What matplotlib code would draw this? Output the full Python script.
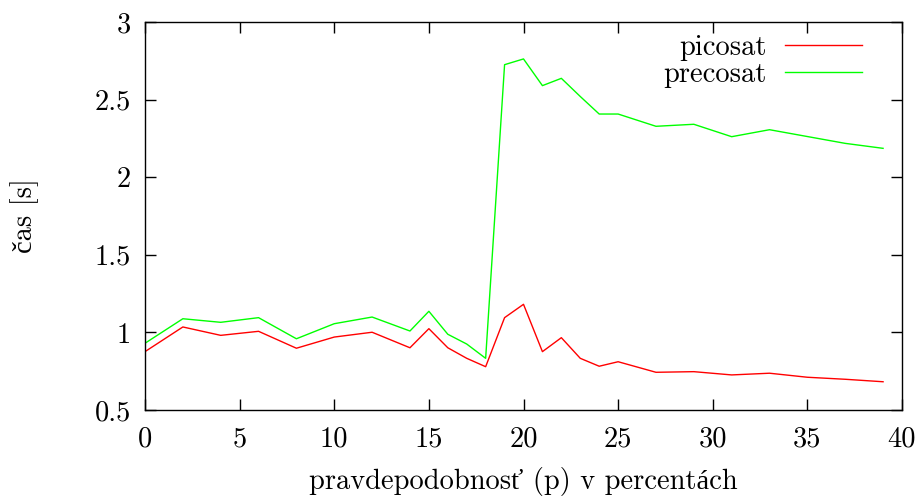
import matplotlib
matplotlib.use("Agg")
import matplotlib.pyplot as plt

plt.rcParams['font.family'] = ['cmr10', 'Liberation Serif']
plt.rcParams['axes.formatter.use_mathtext'] = True
plt.rcParams['mathtext.fontset'] = 'cm'

x = [0, 2, 4, 6, 8, 10, 12, 14, 15, 16, 17, 18, 19, 20, 21, 22, 23, 24, 25,
     27, 29, 31, 33, 35, 37, 39]
picosat = [0.876, 1.035, 0.981, 1.007, 0.898, 0.970, 1.001, 0.901, 1.024,
           0.901, 0.833, 0.779, 1.095, 1.181, 0.876, 0.966, 0.833, 0.782,
           0.811, 0.743, 0.747, 0.726, 0.737, 0.711, 0.698, 0.682]
precosat = [0.930, 1.088, 1.065, 1.095, 0.959, 1.056, 1.099, 1.009, 1.136,
            0.988, 0.925, 0.833, 2.725, 2.762, 2.590, 2.637, 2.52, 2.407,
            2.407, 2.328, 2.341, 2.261, 2.306, 2.262, 2.218, 2.186]
xticks = [0, 5, 10, 15, 20, 25, 30, 35, 40]
yticks = [0.5, 1, 1.5, 2, 2.5, 3]
ytick_labels = ['0.5', '1', '1.5', '2', '2.5', '3']

FS = 20.5
fig = plt.figure(figsize=(9.19, 4.97), dpi=100)
ax = fig.add_axes([145/919, (497-410)/497, (902-145)/919, (410-22)/497])
ax.plot(x, picosat, color='#ff0000', lw=1.0, label='picosat')
ax.plot(x, precosat, color='#00ff00', lw=1.0, label='precosat')
ax.set_xlim(0, 40)
ax.set_ylim(0.5, 3)
ax.set_xticks(xticks)
ax.set_xticklabels([str(t) for t in xticks])
ax.set_yticks(yticks)
ax.set_yticklabels(ytick_labels)
ax.tick_params(direction='in', length=8, width=1, top=True, right=True,
               labelsize=FS)
ax.tick_params(axis='x', pad=12)
ax.tick_params(axis='y', pad=10)
for s in ax.spines.values():
    s.set_linewidth(1.0)
ax.set_xlabel("pravdepodobnosť (p) v percentách", fontsize=FS, labelpad=10)
ax.set_ylabel("čas [s]", fontsize=FS, labelpad=40)
leg = ax.legend(loc='upper right', bbox_to_anchor=(0.962, 0.996),
                frameon=False, markerfirst=False,
                fontsize=FS, handlelength=2.7, handletextpad=0.63,
                labelspacing=0.03, borderaxespad=0.0, borderpad=0.4)
for t in leg.get_texts():
    t.set_ha('right')
fig.savefig('out.png', dpi=100)
